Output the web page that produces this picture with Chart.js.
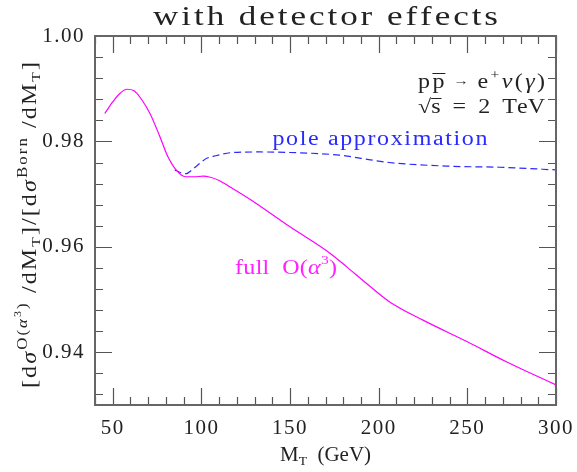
<!DOCTYPE html>
<html><head><meta charset="utf-8">
<script src="https://cdn.jsdelivr.net/npm/chart.js@4/dist/chart.umd.min.js"></script>
<style>html,body{margin:0;padding:0;background:#fff;}#wrap{width:577px;height:472px;}</style>
</head><body><div id="wrap"><canvas id="c" width="577" height="472"></canvas></div>
<script>
const FONT = '"Liberation Serif", "DejaVu Serif", serif';
const titleText = 'with detector effects';
const xTickValues = [50, 100, 150, 200, 250, 300];
const yTickValues = [0.94, 0.96, 0.98, 1.00];
const fullMT    = [45.5, 50, 54, 58, 62, 66, 71, 76.5, 81, 86, 91, 96, 101, 105, 110, 116, 128, 150, 172.5, 182, 193, 206, 225, 250, 272, 300];
const fullRatio = [0.9853, 0.9875, 0.9891, 0.9899, 0.9896, 0.9881, 0.9853, 0.9810, 0.9772, 0.9745, 0.9733, 0.9733, 0.9734, 0.9732, 0.9726, 0.9714, 0.9689, 0.9638, 0.9588, 0.9562, 0.9531, 0.9496, 0.9461, 0.9420, 0.9382, 0.9338];
const poleMT    = [85, 88, 91.5, 95, 99, 103, 107, 118, 133, 150, 178, 190, 206, 240, 268, 300];
const poleRatio = [0.9746, 0.9741, 0.9739, 0.9747, 0.9758, 0.9768, 0.9772, 0.9779, 0.9780, 0.9779, 0.9774, 0.9768, 0.9760, 0.9753, 0.9751, 0.9746];

function toPts(xs, ys){ return xs.map((x,i)=>({x:x, y:ys[i]})); }

function segFont(s){ return (s.italic?'italic ':'') + (s.size||20) + 'px ' + FONT; }
// rich text: segments {t,size,dy,italic,over}; glyphs are widened (up to maxStretch) then spaced to reach the target width
function drawRich(ctx, segs, x, y, opt){
  opt = opt || {};
  const chars = [];
  segs.forEach((s,si)=>{ ctx.font = segFont(s); for (const ch of s.t) chars.push({ch, s, si, w: ctx.measureText(ch).width}); });
  const natural = chars.reduce((a,c)=>a+c.w,0);
  let sx = 1, sp = 0;
  if (opt.width) {
    sx = Math.min(opt.width / natural, opt.maxStretch || 1.2);
    sp = (opt.width - natural*sx) / Math.max(1, chars.length-1);
  }
  const total = natural*sx + sp*(chars.length-1);
  let cx = x;
  if (opt.align === 'center') cx = x - total/2;
  else if (opt.align === 'right') cx = x - total;
  ctx.fillStyle = opt.color || '#111';
  ctx.textBaseline = 'alphabetic';
  ctx.textAlign = 'left';
  const overs = {};
  chars.forEach(c=>{
    ctx.font = segFont(c.s);
    ctx.save();
    ctx.translate(cx, y + (c.s.dy||0));
    ctx.scale(sx, 1);
    ctx.fillText(c.ch, 0, 0);
    ctx.restore();
    if (c.s.over) { const o = overs[c.si] || (overs[c.si] = {x0:cx, x1:cx, s:c.s}); o.x1 = cx + c.w*sx; }
    cx += c.w*sx + sp;
  });
  Object.values(overs).forEach(o=>{
    ctx.strokeStyle = opt.color || '#111'; ctx.lineWidth = 1;
    const oy = Math.round(y + (o.s.dy||0) - (o.s.overY || 15)) + 0.5;
    ctx.beginPath(); ctx.moveTo(o.x0, oy); ctx.lineTo(o.x1 + 1, oy); ctx.stroke();
  });
}

const decor = {
  id: 'decor',
  beforeDraw(chart){ try { chart.ctx.letterSpacing = '1.5px'; } catch(e){} },
  beforeDatasetsDraw(chart){ try { chart.ctx.letterSpacing = '0px'; } catch(e){} },
  afterDraw(chart){
    const ctx = chart.ctx, a = chart.chartArea, xs = chart.scales.x, ys = chart.scales.y;
    ctx.save();
    try { ctx.letterSpacing = '0px'; } catch(e){}
    // inner tick marks on all four sides
    ctx.strokeStyle = '#555'; ctx.lineWidth = 1.2;
    ctx.beginPath();
    for (let v = 40; v <= 300; v += 10) {
      const px = Math.round(xs.getPixelForValue(v)) + 0.5;
      const L = (v % 50 === 0) ? 17 : 8;
      ctx.moveTo(px, a.bottom); ctx.lineTo(px, a.bottom - L);
      ctx.moveTo(px, a.top); ctx.lineTo(px, a.top + L);
    }
    for (let k = 233; k <= 250; k++) {
      const v = k * 0.004;
      const py = Math.round(ys.getPixelForValue(v)) + 0.5;
      const L = (k % 5 === 0) ? 17 : 8;
      ctx.moveTo(a.left, py); ctx.lineTo(a.left + L, py);
      ctx.moveTo(a.right, py); ctx.lineTo(a.right - L, py);
    }
    ctx.stroke();
    // frame
    ctx.strokeStyle = '#666'; ctx.lineWidth = 2;
    ctx.strokeRect(a.left, a.top, a.right - a.left, a.bottom - a.top);
    // title
    drawRich(ctx, [{t: titleText, size: 27}], (a.left + a.right)/2, 25, {align:'center', width: 345, maxStretch: 1.3, color:'#222'});
    // x axis title
    drawRich(ctx, [{t:'M', size:20}, {t:'T', size:13, dy:4}, {t:'  (GeV)', size:20}], (a.left + a.right)/2, 461, {align:'center', width: 91, color:'#222'});
    // y axis title (rotated)
    ctx.save();
    ctx.translate(36, 225); ctx.rotate(-Math.PI/2);
    drawRich(ctx, [
      {t:'[d', size:20}, {t:'σ', size:20, italic:true},
      {t:'O(', size:14, dy:-9}, {t:'α', size:14, dy:-9, italic:true}, {t:'3', size:10, dy:-15}, {t:')', size:14, dy:-9},
      {t:' /dM', size:20}, {t:'T', size:13, dy:4},
      {t:']/[d', size:20}, {t:'σ', size:20, italic:true},
      {t:'Born', size:14, dy:-9},
      {t:' /dM', size:20}, {t:'T', size:13, dy:4}, {t:']', size:20}
    ], 0, 0, {align:'center', width: 326, color:'#222'});
    ctx.restore();
    // annotations
    drawRich(ctx, [
      {t:'p', size:20}, {t:'p', size:20, over:true, overY:15},
      {t:' → ', size:13, dy:-3}, {t:'e', size:20}, {t:'+', size:13, dy:-9}, {t:'ν', size:20, italic:true},
      {t:'(', size:20}, {t:'γ', size:20, italic:true}, {t:')', size:20}
    ], 418, 88, {width: 127, color:'#222'});
    drawRich(ctx, [
      {t:'√', size:20}, {t:'s', size:20, over:true, overY:15}, {t:'  =  2  TeV', size:20}
    ], 418, 113, {width: 127, color:'#222'});
    drawRich(ctx, [{t:'pole approximation', size:20}], xs.getPixelForValue(200.7), ys.getPixelForValue(0.97932), {align:'center', width: 215, color:'#2a2aff'});
    drawRich(ctx, [{t:'full  O(', size:20}, {t:'α', size:20, italic:true}, {t:'3', size:13, dy:-10}, {t:')', size:20}],
      xs.getPixelForValue(119), ys.getPixelForValue(0.95485), {width: 102, color:'#ff22ff'});
    ctx.restore();
  }
};

new Chart(document.getElementById('c'), {
  type: 'line',
  data: {
    datasets: [
      { label: 'full O(α³)', data: toPts(fullMT, fullRatio), borderColor: '#ff00ff', borderWidth: 1.2, pointRadius: 0, cubicInterpolationMode: 'monotone', fill: false },
      { label: 'pole approximation', data: toPts(poleMT, poleRatio), borderColor: '#2a2aff', borderWidth: 1.2, borderDash: [7, 4], pointRadius: 0, cubicInterpolationMode: 'monotone', fill: false }
    ]
  },
  options: {
    responsive: false, animation: false, devicePixelRatio: 1,
    layout: { padding: { top: 36, right: 21, left: 0, bottom: 0 } },
    plugins: { legend: { display: false }, tooltip: { enabled: false }, title: { display: false } },
    scales: {
      x: {
        type: 'linear', min: 40, max: 300,
        grid: { display: false, drawTicks: false }, border: { display: false },
        afterBuildTicks: s => { s.ticks = xTickValues.map(v => ({ value: v })); },
        afterFit: s => { s.height = 67; s.paddingLeft = 0; s.paddingRight = 0; },
        ticks: { padding: 11, maxRotation: 0, color: '#222', font: { family: FONT, size: 21 }, callback: v => String(v) }
      },
      y: {
        type: 'linear', min: 0.93, max: 1.0,
        grid: { display: false, drawTicks: false }, border: { display: false },
        afterBuildTicks: s => { s.ticks = yTickValues.map(v => ({ value: v })); },
        afterFit: s => { s.width = 95; s.paddingTop = 0; s.paddingBottom = 0; },
        ticks: { padding: 10, color: '#222', font: { family: FONT, size: 21 }, callback: v => Number(v).toFixed(2) }
      }
    }
  },
  plugins: [decor]
});
</script></body></html>
